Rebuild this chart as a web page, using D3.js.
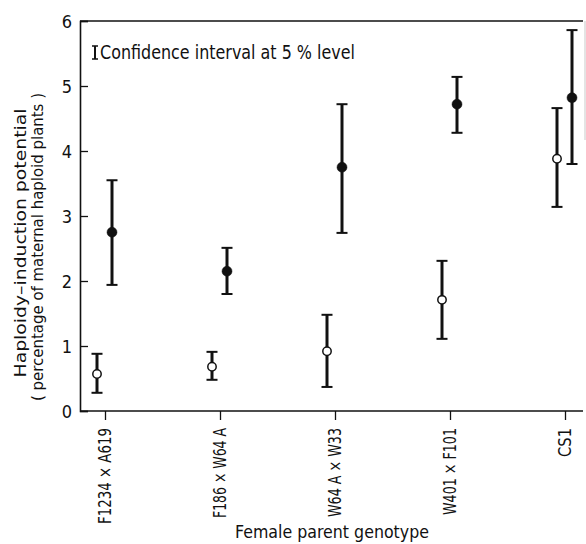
<!DOCTYPE html>
<html>
<head>
<meta charset="utf-8">
<script src="https://cdn.jsdelivr.net/npm/d3@7"></script>
<style>
  body { margin: 0; background: #fff; }
  text { font-family: "DejaVu Sans Condensed", "DejaVu Sans", sans-serif; fill: #111; }
</style>
</head>
<body>
<svg id="chart" width="586" height="544"></svg>
<script>
// categories along the x axis
var categories = ["F1234 \u00d7 A619", "F186 \u00d7 W64 A", "W64 A \u00d7 W33", "W401 \u00d7 F101", "CS1"];
// printed length of each rotated label in the original
var labelLengths = [96, 90, 89, 87, 29];

// open circles: mean, lower and upper confidence limits
var openMean = [0.57, 0.68, 0.92, 1.71, 3.88];
var openLow  = [0.28, 0.48, 0.37, 1.11, 3.14];
var openHigh = [0.88, 0.91, 1.48, 2.31, 4.66];

// filled circles
var filledMean = [2.75, 2.15, 3.75, 4.72, 4.82];
var filledLow  = [1.94, 1.80, 2.74, 4.28, 3.80];
var filledHigh = [3.55, 2.51, 4.72, 5.14, 5.86];

var yTicks = [0, 1, 2, 3, 4, 5, 6];

var LEFT = 80, RIGHT = 583, TOP = 21, BOTTOM = 411;
var OPEN_SHIFT = -8, FILLED_SHIFT = 7;
var CAP = 5.5;

var svg = d3.select("#chart");

var x = d3.scalePoint().domain(categories).range([105, 565]);
var y = d3.scaleLinear().domain([0, 6]).range([BOTTOM, TOP]);

// frame: top and right edges
svg.append("line")
  .attr("x1", LEFT).attr("x2", RIGHT)
  .attr("y1", TOP).attr("y2", TOP)
  .attr("stroke", "#111").attr("stroke-width", 1.6);
svg.append("line")
  .attr("x1", RIGHT + 2).attr("x2", RIGHT + 2)
  .attr("y1", TOP).attr("y2", 140)
  .attr("stroke", "#bbb").attr("stroke-width", 0.8);

// y axis, ticks pointing inwards
var yAxis = svg.append("g")
  .attr("transform", "translate(" + LEFT + ",0)")
  .call(d3.axisRight(y).tickValues(yTicks).tickSize(8).tickFormat(""));
yAxis.select(".domain").attr("stroke", "#111").attr("stroke-width", 1.6);
yAxis.selectAll(".tick line").attr("stroke", "#111").attr("stroke-width", 1.3);

svg.selectAll(".ylab")
  .data(yTicks)
  .enter().append("text")
    .attr("class", "ylab")
    .attr("x", 72)
    .attr("y", function(d) { return y(d) + 6.5; })
    .attr("text-anchor", "end")
    .style("font-size", "18px")
    .text(function(d) { return d; });

// x axis, ticks pointing outwards
var xAxis = svg.append("g")
  .attr("transform", "translate(0," + BOTTOM + ")")
  .call(d3.axisBottom(x).tickSize(9).tickFormat(""));
xAxis.select(".domain")
  .attr("d", "M" + LEFT + ",0H" + RIGHT)
  .attr("stroke", "#111").attr("stroke-width", 1.6);
xAxis.selectAll(".tick line").attr("stroke", "#111").attr("stroke-width", 1.3);

svg.selectAll(".xlab")
  .data(categories)
  .enter().append("text")
    .attr("class", "xlab")
    .attr("transform", function(d) {
      return "translate(" + (x(d) + 6) + ",428) rotate(-90)";
    })
    .attr("text-anchor", "end")
    .attr("textLength", function(d, i) { return labelLengths[i]; })
    .attr("lengthAdjust", "spacingAndGlyphs")
    .style("font-size", "17px")
    .text(function(d) { return d; });

svg.append("text")
  .attr("x", 235).attr("y", 538)
  .attr("textLength", 194)
  .attr("lengthAdjust", "spacingAndGlyphs")
  .style("font-size", "18px")
  .text("Female parent genotype");

svg.append("text")
  .attr("transform", "translate(26,243) rotate(-90)")
  .attr("text-anchor", "middle")
  .attr("textLength", 269)
  .attr("lengthAdjust", "spacingAndGlyphs")
  .style("font-size", "16px")
  .text("Haploidy\u2013induction potential");
svg.append("text")
  .attr("transform", "translate(43,247) rotate(-90)")
  .attr("text-anchor", "middle")
  .attr("textLength", 308)
  .attr("lengthAdjust", "spacingAndGlyphs")
  .style("font-size", "16.5px")
  .text("( percentage of maternal haploid plants )");

// legend: error bar glyph + text
var lg = svg.append("g").attr("stroke", "#111");
lg.append("line").attr("x1", 95).attr("x2", 95).attr("y1", 46).attr("y2", 59).attr("stroke-width", 2);
lg.append("line").attr("x1", 92).attr("x2", 98).attr("y1", 46).attr("y2", 46).attr("stroke-width", 1.5);
lg.append("line").attr("x1", 92).attr("x2", 98).attr("y1", 59).attr("y2", 59).attr("stroke-width", 1.5);
svg.append("text")
  .attr("x", 100).attr("y", 59)
  .attr("textLength", 255)
  .attr("lengthAdjust", "spacingAndGlyphs")
  .style("font-size", "19px")
  .text("Confidence interval at 5 % level");

function drawSeries(mean, low, high, shift, filled) {
  var idx = d3.range(categories.length);
  var g = svg.append("g");

  g.selectAll(".bar").data(idx).enter().append("line")
    .attr("x1", function(i) { return x(categories[i]) + shift; })
    .attr("x2", function(i) { return x(categories[i]) + shift; })
    .attr("y1", function(i) { return y(low[i]); })
    .attr("y2", function(i) { return y(high[i]); })
    .attr("stroke", "#111").attr("stroke-width", 3);

  [low, high].forEach(function(arr) {
    g.selectAll(null).data(idx).enter().append("line")
      .attr("x1", function(i) { return x(categories[i]) + shift - CAP; })
      .attr("x2", function(i) { return x(categories[i]) + shift + CAP; })
      .attr("y1", function(i) { return y(arr[i]); })
      .attr("y2", function(i) { return y(arr[i]); })
      .attr("stroke", "#111").attr("stroke-width", 2);
  });

  g.selectAll("circle").data(idx).enter().append("circle")
    .attr("cx", function(i) { return x(categories[i]) + shift; })
    .attr("cy", function(i) { return y(mean[i]); })
    .attr("r", filled ? 5 : 4.2)
    .attr("fill", filled ? "#111" : "#fff")
    .attr("stroke", "#111")
    .attr("stroke-width", filled ? 0.5 : 1.5);
}

drawSeries(openMean, openLow, openHigh, OPEN_SHIFT, false);
drawSeries(filledMean, filledLow, filledHigh, FILLED_SHIFT, true);
</script>
</body>
</html>
